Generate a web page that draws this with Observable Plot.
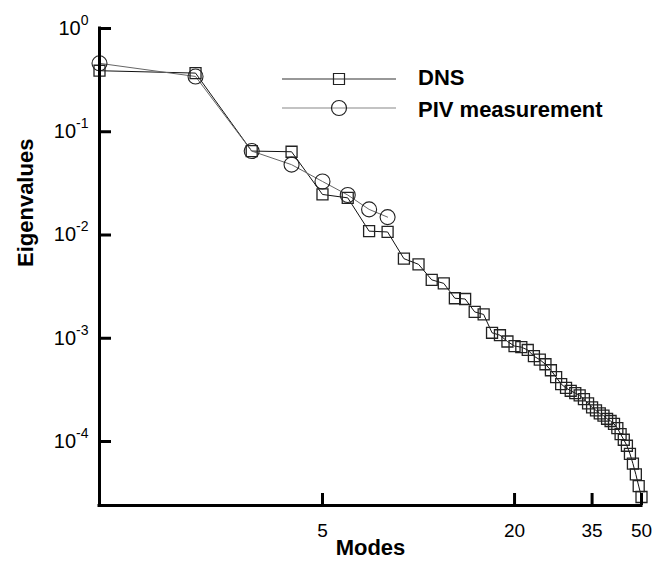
<!DOCTYPE html>
<html><head><meta charset="utf-8">
<script src="https://cdn.jsdelivr.net/npm/d3@7"></script>
<script src="https://cdn.jsdelivr.net/npm/@observablehq/plot@0.6"></script>
<style>
body{margin:0;background:#fff;}
#chart{width:666px;height:564px;}
</style></head><body><div id="chart"></div>
<script>
const modes = d3.range(1, 51);
const dnsValues = [0.39, 0.37, 0.065, 0.064, 0.0247, 0.0229, 0.0109, 0.0107, 0.0059, 0.0052,
  0.00368, 0.0034, 0.00244, 0.0024, 0.0018, 0.0017, 0.00113, 0.00107, 0.00093, 0.00084,
  0.00082, 0.00077, 0.00067, 0.00062, 0.00056, 0.00049, 0.00042, 0.00036, 0.00033, 0.00031,
  0.000294, 0.00028, 0.000257, 0.000234, 0.000214, 0.0002, 0.000187, 0.000178, 0.000166, 0.000158,
  0.000148, 0.000135, 0.000118, 0.000104, 0.000091, 0.000076, 0.000061, 0.000048, 0.000037, 0.000029];
const pivModes = [1, 2, 3, 4, 5, 6, 7, 8];
const pivValues = [0.46, 0.343, 0.065, 0.048, 0.033, 0.0244, 0.0177, 0.0149];
const xTicks = [5, 20, 35, 50];
const yTicks = [1, 1e-1, 1e-2, 1e-3, 1e-4];
const xDomain = [1, 50];
const yDomain = [2.4e-5, 1];
const seriesNames = ["DNS", "PIV measurement"];
const xLabel = "Modes";
const yLabel = "Eigenvalues";

const dns = modes.map((m, i) => ({mode: m, value: dnsValues[i]}));
const piv = pivModes.map((m, i) => ({mode: m, value: pivValues[i]}));

const font = "'Liberation Sans', Arial, Helvetica, sans-serif";
const W = 666, H = 564, mL = 99, mR = 25, mT = 28, mB = 59;
const tickLen = 12;

const plot = Plot.plot({
  width: W, height: H,
  marginLeft: mL, marginRight: mR, marginTop: mT, marginBottom: mB,
  style: {fontFamily: font, background: "white", color: "black", overflow: "visible"},
  x: {type: "log", domain: xDomain, axis: null},
  y: {type: "log", domain: yDomain, axis: null},
  marks: [
    Plot.line(dns, {x: "mode", y: "value", stroke: "#111", strokeWidth: 1}),
    Plot.line(piv, {x: "mode", y: "value", stroke: "#666", strokeWidth: 1}),
    Plot.dot(dns, {x: "mode", y: "value", symbol: "square", r: 6.2, stroke: "#222", strokeWidth: 1.3, fill: "none"}),
    Plot.dot(piv, {x: "mode", y: "value", symbol: "circle", r: 7.5, stroke: "#222", strokeWidth: 1.1, fill: "none"}),
    // axis lines
    Plot.ruleX([xDomain[0]], {y1: yDomain[0], y2: yDomain[1], stroke: "black", strokeWidth: 3, strokeLinecap: "square"}),
    Plot.ruleY([yDomain[0]], {x1: xDomain[0], x2: xDomain[1], stroke: "black", strokeWidth: 3, strokeLinecap: "square"}),
    // inward ticks
    Plot.tickX(xTicks, {x: d => d, stroke: "black", strokeWidth: 3, insetTop: (H - mT - mB) - tickLen}),
    Plot.tickY(yTicks, {y: d => d, stroke: "black", strokeWidth: 3, insetRight: (W - mL - mR) - tickLen}),
    // tick labels
    Plot.text(xTicks, {x: d => d, frameAnchor: "bottom", dy: 18, lineAnchor: "top", text: d => String(d), fontSize: 19, fill: "black"}),
    Plot.text(yTicks, {y: d => d, frameAnchor: "left", dx: -11, textAnchor: "end", text: d => "10^" + Math.round(Math.log10(d)), fontSize: 20, fill: "black"}),
    // axis titles
    Plot.text([xLabel], {text: d => d, frameAnchor: "bottom", dy: 49, fontSize: 22, fontWeight: "bold", fill: "black"}),
    Plot.text([yLabel], {text: d => d, frameAnchor: "left", dx: -74, rotate: -90, fontSize: 22, fontWeight: "bold", fill: "black"})
  ]
});

const svg = d3.select(plot);
// superscript exponents on y tick labels
svg.selectAll("text").each(function() {
  const m = /^10\^(-?\d+)$/.exec(this.textContent);
  if (m) {
    const s = d3.select(this);
    s.text("10");
    s.append("tspan").attr("font-size", 14).attr("dy", -10).text(m[1]);
  }
});

// legend
const legendRows = [
  {name: seriesNames[0], y: 79, ty: 85, symbol: d3.symbolSquare, size: 121, line: "#333"},
  {name: seriesNames[1], y: 108, ty: 116.5, symbol: d3.symbolCircle, size: Math.PI * 7.5 * 7.5, line: "#888"}
];
const lg = svg.append("g").attr("aria-label", "legend");
for (const r of legendRows) {
  lg.append("line").attr("x1", 282).attr("x2", 396).attr("y1", r.y).attr("y2", r.y)
    .attr("stroke", r.line).attr("stroke-width", 1.2);
  lg.append("path").attr("d", d3.symbol(r.symbol, r.size)()).attr("transform", `translate(339,${r.y})`)
    .attr("fill", "none").attr("stroke", "#222").attr("stroke-width", 1.2);
  lg.append("text").attr("x", 418).attr("y", r.ty).attr("font-size", 22).attr("font-weight", "bold")
    .attr("text-anchor", "start").attr("font-family", font).attr("fill", "black").text(r.name);
}

document.getElementById("chart").appendChild(plot);
</script></body></html>
